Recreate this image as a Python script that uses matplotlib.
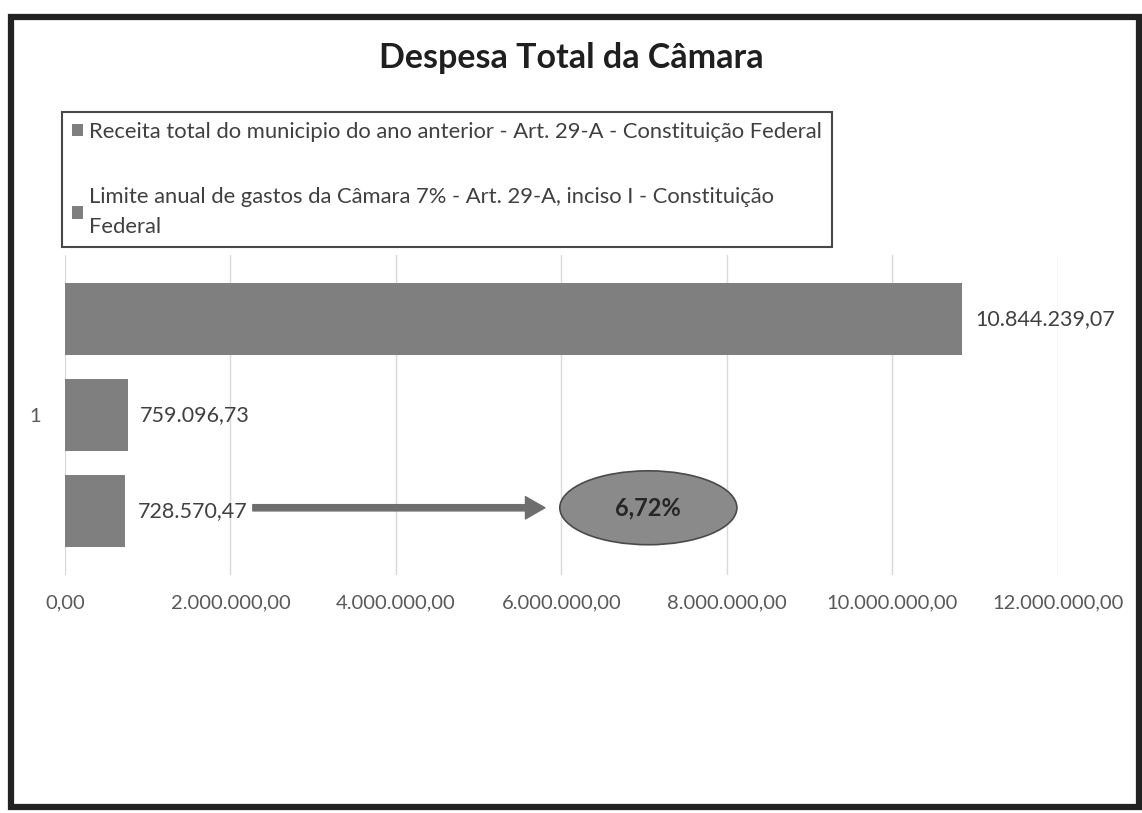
import matplotlib
matplotlib.use("Agg")
import matplotlib.pyplot as plt
from matplotlib.patches import Ellipse, Rectangle, Patch

# Data
CATEGORY = ["1"]
SERIES = [
    "Receita total do municipio do ano anterior - Art. 29-A - Constituição Federal",
    "Limite anual de gastos da Câmara 7% - Art. 29-A, inciso I - Constituição\nFederal",
    "Despesa total da Câmara",
]
VALUES = [10844239.07, 759096.73, 728570.47]
X_TICKS = [0, 2e6, 4e6, 6e6, 8e6, 10e6, 12e6]

TITLE = "Despesa Total da Câmara"
BAR_COLOR = "#7f7f7f"
TEXT_COLOR = "#404040"

plt.rcParams["font.family"] = ["Lato", "DejaVu Sans"]


def br_number(v):
    # 10844239.07 -> 10.844.239,07
    s = f"{v:,.2f}"
    return s.replace(",", "X").replace(".", ",").replace("X", ".")


fig = plt.figure(figsize=(11.42, 8.13), dpi=100)
ax = fig.add_axes([0.0569, 0.2928, 0.8695, 0.3935])

# bars: one category, three series stacked top to bottom
spacing = 0.3
height = 0.225
n = len(VALUES)
for i, (name, val) in enumerate(zip(SERIES, VALUES)):
    y = 1 + spacing * ((n - 1) / 2 - i)
    b = ax.barh(y, val, height=height, color=BAR_COLOR, edgecolor="none")
    ax.bar_label(b, labels=[br_number(val)], padding=9, fontsize=15.5,
                 color=TEXT_COLOR)

ax.set_xlim(0, X_TICKS[-1])
ax.set_ylim(0.5, 1.5)
ax.set_xticks(X_TICKS)
ax.set_xticklabels([br_number(t) for t in X_TICKS])
ax.set_yticks([1])
ax.set_yticklabels(CATEGORY)
ax.tick_params(axis="x", length=0, pad=14, labelsize=14.5, labelcolor="#595959")
ax.tick_params(axis="y", length=0, pad=17, labelsize=14.5, labelcolor="#595959")
ax.grid(axis="x", color="#d9d9d9", linewidth=1)
ax.set_axisbelow(True)
for s in ax.spines.values():
    s.set_visible(False)

# arrow from the last bar label to the percentage bubble
y_last = 1 + spacing * ((n - 1) / 2 - (n - 1)) + 0.01
pct = VALUES[2] / VALUES[0] * 100
ax.annotate("", xy=(5.8e6, y_last), xytext=(2.27e6, y_last),
            arrowprops=dict(arrowstyle="simple,head_length=1.4,head_width=1.6,tail_width=0.45",
                            color="#6e6e6e", shrinkA=0, shrinkB=0))
ax.add_patch(Ellipse((7.05e6, y_last), 2.14e6, 0.231, facecolor="#8a8a8a",
                     edgecolor="#4a4a4a", linewidth=1.2))
ax.text(7.05e6, y_last, f"{pct:.2f}%".replace(".", ","), ha="center",
        va="center", fontsize=17, fontweight="bold", color="#262626")

# legend
handles = [Patch(facecolor=BAR_COLOR, edgecolor="none") for _ in SERIES[:2]]
leg = fig.legend(handles, SERIES[:2], loc="upper left",
                 bbox_to_anchor=(62 / 1142, 1 - 112 / 813),
                 fontsize=15.8, frameon=True, fancybox=False, edgecolor="#1a1a1a",
                 handlelength=0.5, handleheight=0.5, handletextpad=0.3,
                 labelspacing=2.05, borderpad=0.45, borderaxespad=0)
leg.get_frame().set_linewidth(1.5)
for t in leg.get_texts():
    t.set_color(TEXT_COLOR)
    t.set_linespacing(1.65)

fig.text(0.5, 1 - 58 / 813, TITLE, ha="center", va="center", fontsize=24.5,
         fontweight="bold", color="#1f1f1f")

# outer frame of the chart
fig.patches.append(Rectangle((11 / 1142, 6 / 813), 1128 / 1142, 790 / 813,
                             transform=fig.transFigure, fill=False,
                             edgecolor="#222222", linewidth=4.5))

fig.savefig("out.png", dpi=100)
